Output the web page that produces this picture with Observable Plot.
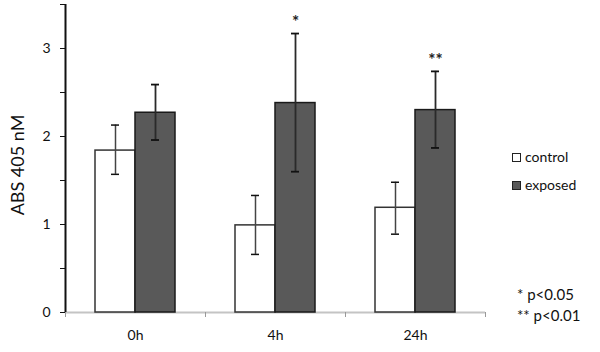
<!DOCTYPE html>
<html>
<head>
<meta charset="utf-8">
<script src="https://cdn.jsdelivr.net/npm/d3@7"></script>
<script src="https://cdn.jsdelivr.net/npm/@observablehq/plot@0.6"></script>
<style>
  html, body { margin: 0; padding: 0; background: white; }
  #wrap { position: relative; width: 600px; height: 352px; font-family: Lato, "DejaVu Sans", sans-serif; }
  .leg { position: absolute; font-size: 14px; color: #111; line-height: 1; white-space: nowrap; }
  .foot { font-size: 15px; }
  .sw { display: inline-block; width: 7px; height: 7px; border: 1px solid #222; margin-right: 4px; vertical-align: 0px; }
  .ytitle { position: absolute; left: 17px; top: 165px; transform: translate(-50%, -50%) rotate(-90deg); font-size: 18px; color: #111; white-space: nowrap; line-height: 1; }
</style>
</head>
<body>
<div id="wrap"></div>
<script>
const times = ["0h", "4h", "24h"];
const seriesNames = ["control", "exposed"];
const controlMean = [1.84, 0.99, 1.19];
const controlLo   = [1.57, 0.66, 0.89];
const controlHi   = [2.13, 1.33, 1.48];
const exposedMean = [2.27, 2.38, 2.30];
const exposedLo   = [1.96, 1.60, 1.87];
const exposedHi   = [2.59, 3.17, 2.74];
const stars = ["", "*", "**"];
const yTicks = [0, 0.5, 1, 1.5, 2, 2.5, 3, 3.5];
const yLabels = [0, 1, 2, 3];
const yTitle = "ABS 405 nM";
const footnotes = ["* p<0.05", "** p<0.01"];

const ctrl = times.map((t, i) => ({time: t, mean: controlMean[i], lo: controlLo[i], hi: controlHi[i]}));
const expo = times.map((t, i) => ({time: t, mean: exposedMean[i], lo: exposedLo[i], hi: exposedHi[i], star: stars[i]}));

const chart = Plot.plot({
  width: 600, height: 352,
  marginLeft: 65, marginRight: 115, marginTop: 4, marginBottom: 40,
  style: {fontFamily: "Lato, sans-serif", fontSize: "14px", background: "white", color: "#111"},
  x: {domain: times, padding: 0, label: null, axis: null},
  y: {domain: [0, 3.5], label: null, axis: null},
  marks: [
    Plot.ruleY([0], {stroke: "#c4c4c4", strokeWidth: 2}),
    Plot.barY(ctrl, {x: "time", y: "mean", insetLeft: 30, insetRight: 70, fill: "white", stroke: "#333", strokeWidth: 1.5}),
    Plot.barY(expo, {x: "time", y: "mean", insetLeft: 70, insetRight: 30, fill: "#595959", stroke: "#1a1a1a", strokeWidth: 1.5}),
    Plot.ruleX(ctrl, {x: "time", dx: -20, y1: "lo", y2: "hi", stroke: "#444", strokeWidth: 1.5}),
    Plot.tickY(ctrl, {x: "time", y: "hi", insetLeft: 46, insetRight: 86, stroke: "#111", strokeWidth: 1.5}),
    Plot.tickY(ctrl, {x: "time", y: "lo", insetLeft: 46, insetRight: 86, stroke: "#111", strokeWidth: 1.5}),
    Plot.ruleX(expo, {x: "time", dx: 20, y1: "lo", y2: "hi", stroke: "#2a2a2a", strokeWidth: 1.8}),
    Plot.tickY(expo, {x: "time", y: "hi", insetLeft: 86, insetRight: 46, stroke: "#111", strokeWidth: 1.8}),
    Plot.tickY(expo, {x: "time", y: "lo", insetLeft: 86, insetRight: 46, stroke: "#111", strokeWidth: 1.8}),
    Plot.text(expo, {x: "time", y: "hi", text: "star", dx: 20, dy: -11, fontSize: 17, fill: "#222", fontWeight: "bold", lineAnchor: "middle"}),
    // y axis line, ticks and labels
    Plot.ruleX([times[0]], {dx: -70, y1: 0, y2: 3.5, stroke: "#111", strokeWidth: 2}),
    Plot.axisY({ticks: yTicks, tickSize: 5, tickPadding: 10, tickFormat: d => yLabels.includes(d) ? String(d) : "", fontSize: 14, stroke: "#111", label: null}),
    // x axis labels and category boundary ticks
    Plot.axisX({tickSize: 0, tickPadding: 18, fontSize: 14, label: null}),
    Plot.ruleX(times, {x: d => d, dx: 70, y1: 0, y2: 0, insetBottom: -5, stroke: "#999"}),
    Plot.ruleX([times[0]], {x: d => d, dx: -70, y1: 0, y2: 0, insetBottom: -5, stroke: "#999"})
  ]
});

const wrap = document.getElementById("wrap");
wrap.appendChild(chart);

// y-axis title
const yt = document.createElement("div");
yt.className = "ytitle";
yt.textContent = yTitle;
wrap.appendChild(yt);

// legend
const legendPos = [150, 178];
seriesNames.forEach((name, i) => {
  const d = document.createElement("div");
  d.className = "leg";
  d.style.left = "512px";
  d.style.top = legendPos[i] + "px";
  const sw = document.createElement("span");
  sw.className = "sw";
  sw.style.background = i === 0 ? "white" : "#595959";
  d.appendChild(sw);
  d.appendChild(document.createTextNode(name));
  wrap.appendChild(d);
});
// footnotes
const footPos = [287, 308];
footnotes.forEach((t, i) => {
  const d = document.createElement("div");
  d.className = "leg foot";
  d.style.left = "517px";
  d.style.top = footPos[i] + "px";
  d.textContent = t;
  wrap.appendChild(d);
});
</script>
</body>
</html>
